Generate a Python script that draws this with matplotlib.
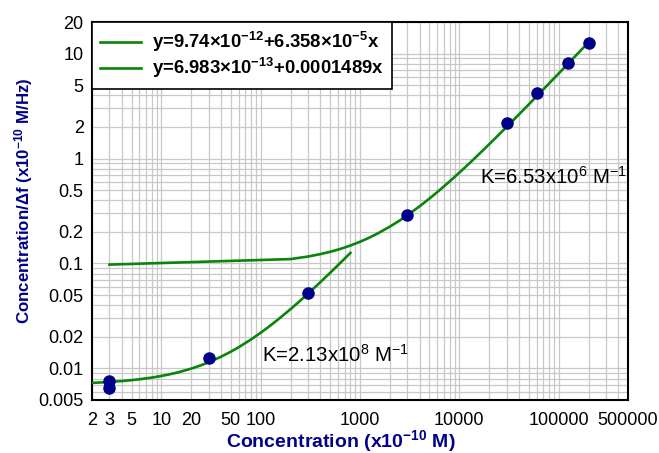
import numpy as np
import matplotlib
matplotlib.use('Agg')
import matplotlib.pyplot as plt
from matplotlib.ticker import FixedLocator, FixedFormatter, LogLocator, NullFormatter

plt.rcParams['font.family'] = ['Liberation Sans', 'DejaVu Sans']
plt.rcParams['mathtext.fontset'] = 'custom'
plt.rcParams['mathtext.rm'] = 'Liberation Sans'
plt.rcParams['mathtext.it'] = 'Liberation Sans:italic'
plt.rcParams['mathtext.bf'] = 'Liberation Sans:bold'

# measured points (x10^-10 M, x10^-10 M/Hz)
low_x = [3, 3, 30, 300]
low_y = [0.0076, 0.0065, 0.0126, 0.0526]
high_x = [3000, 30000, 61000, 125000, 200000]
high_y = [0.287, 2.2, 4.22, 8.22, 12.6]

# linear fits from the legend (in M units)
high_icpt, high_slope = 9.74e-12, 6.358e-5
low_icpt, low_slope = 6.983e-13, 0.0001489
unit = 1e-10

# x positions where the fit lines are drawn
high_fit_x = [3, 200, 300, 400, 500, 600, 700, 800, 1000, 1200, 1500, 2000, 2500,
              3000, 4000, 5000, 6000, 8000, 10000, 12500, 15000, 20000, 25000,
              30000, 40000, 50000, 60000, 80000, 100000, 125000, 150000, 200000]
low_fit_x = [2, 2.5, 3, 4, 5, 6, 8, 10, 12, 15, 20, 25, 30, 40, 50, 60, 80, 100,
             120, 150, 200, 250, 300, 400, 500, 600, 700, 800]

x_ticks = [2, 3, 5, 10, 20, 50, 100, 1000, 10000, 100000, 500000]
y_ticks = [0.005, 0.01, 0.02, 0.05, 0.1, 0.2, 0.5, 1, 2, 5, 10, 20]
y_ticklabels = ['0.005', '0.01', '0.02', '0.05', '0.1', '0.2', '0.5', '1', '2', '5', '10', '20']

green = '#0a840a'
navy = '#000088'

fig = plt.figure(figsize=(6.59, 4.53), dpi=100)
ax = fig.add_axes([0.1396, 0.117, 0.8134, 0.8344])

hx = np.array(high_fit_x, dtype=float)
lx = np.array(low_fit_x, dtype=float)
ax.plot(hx, high_icpt / unit + high_slope * hx, color=green, lw=1.9,
        label=r'y=9.74×10$^{\mathbf{-12}}$+6.358×10$^{\mathbf{-5}}$x', zorder=3)
ax.plot(lx, low_icpt / unit + low_slope * lx, color=green, lw=1.9,
        label=r'y=6.983×10$^{\mathbf{-13}}$+0.0001489x', zorder=3)

ax.plot(low_x, low_y, 'o', color=navy, ms=8, zorder=4)
ax.plot(high_x, high_y, 'o', color=navy, ms=8, zorder=4)

ax.set_xscale('log')
ax.set_yscale('log')
ax.set_xlim(2, 500000)
ax.set_ylim(0.005, 20)

ax.xaxis.set_major_locator(FixedLocator(x_ticks))
ax.xaxis.set_major_formatter(FixedFormatter([str(v) for v in x_ticks]))
ax.yaxis.set_major_locator(FixedLocator(y_ticks))
ax.yaxis.set_major_formatter(FixedFormatter(y_ticklabels))
ax.xaxis.set_minor_locator(LogLocator(base=10, subs=np.arange(1, 10), numticks=20))
ax.yaxis.set_minor_locator(LogLocator(base=10, subs=np.arange(1, 10), numticks=20))
ax.xaxis.set_minor_formatter(NullFormatter())
ax.yaxis.set_minor_formatter(NullFormatter())
ax.tick_params(which='both', length=0, labelsize=13)
ax.tick_params(axis='x', pad=9)
ax.tick_params(axis='y', pad=6)
ax.grid(True, which='both', color='#c8c8c8', lw=0.9)
ax.set_axisbelow(True)
for s in ax.spines.values():
    s.set_linewidth(1.5)

fig.text(480 / 659, 1 - 177 / 453, r'K=6.53x10$^{6}$ M$^{-1}$', fontsize=14.7,
         va='center', ha='left')
fig.text(262 / 659, 1 - 355 / 453, r'K=2.13x10$^{8}$ M$^{-1}$', fontsize=14.7,
         va='center', ha='left')

fig.text(341 / 659, 1 - 441 / 453, r'Concentration (x10$^{\mathbf{-10}}$ M)', fontsize=14,
         fontweight='bold', color=navy, ha='center', va='center')
fig.text(24 / 659, 1 - 201 / 453, r'Concentration/Δf (x10$^{\mathbf{-10}}$ M/Hz)', fontsize=12.2,
         fontweight='bold', color=navy, ha='center', va='center', rotation=90)

leg = ax.legend(loc='upper left', borderaxespad=0, fancybox=False, framealpha=1,
                edgecolor='black', prop={'weight': 'bold', 'size': 13.3},
                handlelength=2.2, handletextpad=0.6, labelspacing=0.1, borderpad=0.45)
leg.get_frame().set_linewidth(1.2)

fig.savefig('out.png', dpi=100)
